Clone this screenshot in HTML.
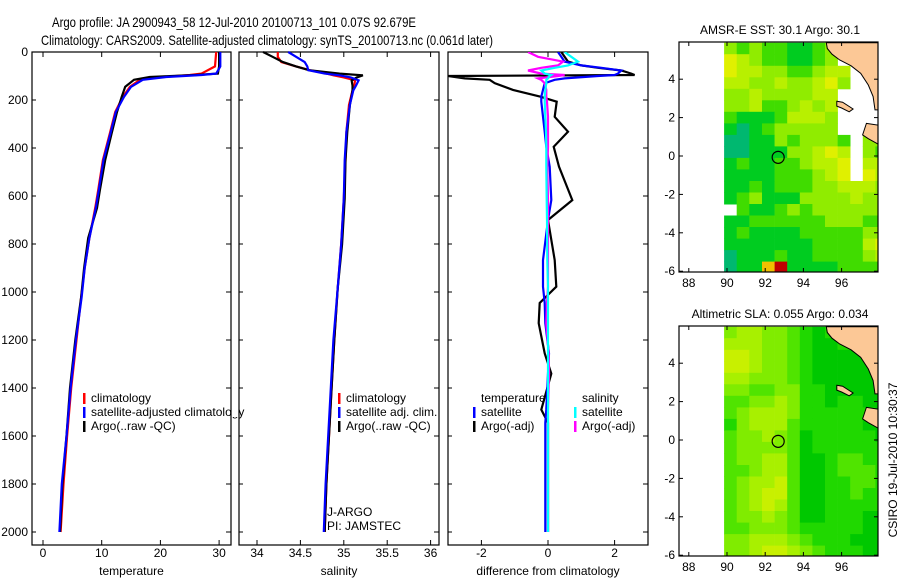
<!DOCTYPE html>
<html><head><meta charset="utf-8"><style>
body{margin:0;background:#fff}
svg{display:block;font-family:"Liberation Sans",sans-serif}
text{fill:#000}
</style></head><body>
<svg id="c" width="900" height="580" xmlns="http://www.w3.org/2000/svg">
<text x="52" y="27" font-size="14" textLength="364" lengthAdjust="spacingAndGlyphs">Argo profile: JA 2900943_58 12-Jul-2010 20100713_101 0.07S 92.679E</text>
<text x="41" y="45" font-size="14" textLength="452" lengthAdjust="spacingAndGlyphs">Climatology: CARS2009. Satellite-adjusted climatology: synTS_20100713.nc (0.061d later)</text>
<g id="g"></g>
</svg>
<script>
// ---------- data ----------
const tDepth   = [0,60,90,96,104,116,145,187,250,338,450,575,650,775,900,1020,1200,1400,1600,1800,2000];
const tArgo    = [30.0,30.0,29.8,26,18.2,15.5,14.0,13.4,12.6,11.7,10.6,9.7,9.2,7.7,7.0,6.5,5.5,4.6,4.0,3.3,2.9];
const tClim    = [29.5,29.3,27,25,20.5,16.5,14.8,13.6,12.3,11.4,10.2,9.4,8.9,7.9,7.1,6.5,5.7,4.8,4.1,3.5,3.0];
const tSat     = [30.2,30.2,29.5,27,21.0,17.0,15.0,13.8,12.4,11.5,10.3,9.5,9.0,7.9,7.1,6.6,5.6,4.7,4.0,3.2,2.8];
const sDepth   = [0,20,42,60,76,90,97,106,118,140,160,220,333,450,611,800,985,1200,1400,1600,1800,2000];
const sArgo    = [34.07,34.18,34.30,34.45,34.60,34.95,35.22,35.15,35.09,35.10,35.10,35.07,35.04,35.02,35.01,34.98,34.93,34.89,34.86,34.83,34.80,34.78];
const sClim    = [34.24,34.24,34.28,34.45,34.61,34.80,34.88,35.00,35.13,35.12,35.10,35.06,35.03,35.02,35.00,34.97,34.93,34.89,34.86,34.83,34.80,34.78];
const sSat     = [34.36,34.45,34.55,34.58,34.59,34.78,34.95,35.08,35.17,35.14,35.11,35.07,35.03,35.01,35.00,34.97,34.93,34.88,34.85,34.82,34.79,34.77];
const dDepth   = [0,20,40,56,66,77,90,96,100,110,116,130,158,186,207,270,332,395,478,617,700,867,978,1046,1130,1256,1340,1490,1545,1700,2000];
const dTArgo   = [0.4,0.5,0.6,1.0,1.5,2.2,2.5,2.6,-3.0,-2.5,-1.75,-1.6,-1.05,-0.24,0.26,0.2,0.6,0.17,0.33,0.73,0.0,0.2,0.25,-0.25,-0.28,-0.1,0.1,-0.2,0.0,0.0,0.0];
const dTSat    = [0.3,0.4,0.5,1.0,1.6,2.2,2.1,2.0,1.5,0.5,0.2,-0.1,-0.15,-0.2,-0.2,-0.15,-0.1,-0.05,0.05,0.1,0.0,-0.15,-0.15,-0.1,-0.08,0.03,0.0,-0.05,-0.08,-0.08,-0.08];
const dSArgo   = [-0.6,-0.3,0.45,0.3,-0.2,-0.6,-0.2,0.5,0.3,-0.3,-0.2,-0.1,-0.05,-0.05,-0.03,0.0,0.0,0.0,-0.02,0.0,0.0,0.0,0.0,-0.03,-0.05,0.02,0.03,0.0,0.0,0.0,0.0];
const dSSat    = [0.5,0.7,0.9,0.6,0.2,-0.2,-0.1,0.1,0.05,0.0,-0.05,-0.05,-0.08,-0.1,-0.1,-0.08,-0.06,-0.05,-0.05,-0.04,-0.03,-0.02,0.0,0.0,0.0,0.0,0.0,0.0,0.0,0.0,0.0];
const depthTicks = [0,200,400,600,800,1000,1200,1400,1600,1800,2000];
const tTicks = [0,10,20,30];
const sTicks = [34,34.5,35,35.5,36];
const dTicks = [-2,0,2];
const lonTicks = [88,90,92,94,96];
const latTicks = [4,2,0,-2,-4,-6];
const sstGrid = ["434332234xxxx","654332234xxxx","6554433455xxx","5544544564xxx","445444455xxxx","445334545xxxx","322235554xxxx","212344444xxxx","1122434443x44","1122244565x43","2322334556x55","2222333456x65","2232333445554","2342224444544","x322343444444","2233333344433","2322223333344","2222222333356","1222322333345","1227922223333"];
const slaGrid = ["4554432122333","5554432112223","6654432111122","6654432111111","5544432111111","4433442211111","3344542212211","3455542222221","2455532222211","3445431222221","3444431222222","3445531123322","3345531123332","3455631122332","3456631122322","3456531122222","3445431122211","3344432222211","4455543222111","4456654322211"];
const argoLon = 92.679, argoLat = -0.07;

// ---------- helpers ----------
const NS="http://www.w3.org/2000/svg", G=document.getElementById('g');
function el(t,a,p){const e=document.createElementNS(NS,t);for(const k in a)e.setAttribute(k,a[k]);(p||G).appendChild(e);return e;}
function txt(x,y,s,fs,anchor,p){const e=el('text',{x:x,y:y,'font-size':fs||12,'text-anchor':anchor||'start'},p);e.textContent=s;return e;}
const yD = d => 52 + d*0.24;
const PB = 545;

function panel(name,x0,x1,xs,ticks,fmt,label,series){
  const g=el('g',{});
  
  
  const r=el('rect',{x:x0,y:52,width:x1-x0,height:PB-52,fill:'none',stroke:'#000','stroke-width':1.2},g);
  
  
  ticks.forEach(v=>{const x=xs(v);
    el('line',{x1:x,x2:x,y1:52,y2:57,stroke:'#000'},g);
    el('line',{x1:x,x2:x,y1:PB,y2:PB-5,stroke:'#000'},g);
    const t=txt(x,557,fmt(v),12,'middle',g);
    
    
  });
  depthTicks.forEach(d=>{el('line',{x1:x1,x2:x1-5,y1:yD(d),y2:yD(d),stroke:'#000'},g);
    el('line',{x1:x0,x2:x0+4,y1:yD(d),y2:yD(d),stroke:'#000'},g);});
  const l=txt((x0+x1)/2,575,label,12,'middle',g);
  
  
  series.forEach(s=>{
    const pts=s.v.map((v,i)=>xs(v).toFixed(1)+','+yD(s.d[i]).toFixed(1)).join(' ');
    const pl=el('polyline',{points:pts,fill:'none',stroke:s.c,'stroke-width':s.w||2.2},g);
    
    
  });
  return g;
}
const cp=el('clipPath',{id:'cp3'});el('rect',{x:448,y:52,width:200,height:PB-52},cp);

const xT=v=>43+v*5.87, xS=v=>257+(v-34)*86.8, xDf=v=>548+v*33.3;
panel('temperature-panel',32,231,xT,tTicks,v=>String(v),'temperature',[
  {v:tClim,d:tDepth,c:'#f00',n:'temp-climatology-line'},
  {v:tArgo,d:tDepth,c:'#000',n:'temp-argo-line'},
  {v:tSat,d:tDepth,c:'#00f',n:'temp-satellite-line'}]);
panel('salinity-panel',239,439,xS,sTicks,v=>String(v),'salinity',[
  {v:sClim,d:sDepth,c:'#f00',n:'sal-climatology-line'},
  {v:sArgo,d:sDepth,c:'#000',n:'sal-argo-line'},
  {v:sSat,d:sDepth,c:'#00f',n:'sal-satellite-line'}]);
const p3=panel('difference-panel',448,648,xDf,dTicks,v=>String(v),'difference from climatology',[
  {v:dTArgo,d:dDepth,c:'#000',n:'temp-argo-diff-line'},
  {v:dTSat,d:dDepth,c:'#00f',n:'temp-satellite-diff-line'},
  {v:dSArgo,d:dDepth,c:'#f0f',n:'sal-argo-diff-line'},
  {v:dSSat,d:dDepth,c:'#0ff',n:'sal-satellite-diff-line'}]);
p3.querySelectorAll('polyline').forEach(p=>p.setAttribute('clip-path','url(#cp3)'));

depthTicks.forEach(d=>{const t=txt(28,yD(d)+4,String(d),12,'end');
  
  });

function legend(name,x,y,items){
  const g=el('g',{});
  
  
  items.forEach((it,i)=>{const yy=y+i*14;
    if(it.c) el('rect',{x:x,y:yy-9,width:2.5,height:11,fill:it.c},g);
    const t=txt(x+8,yy,it.t,12,'start',g);
    
    });
}
legend('temperature-legend',83,402,[{c:'#f00',t:'climatology'},{c:'#00f',t:'satellite-adjusted climatology'},{c:'#000',t:'Argo(..raw -QC)'}]);
legend('salinity-legend',338,402,[{c:'#f00',t:'climatology'},{c:'#00f',t:'satellite adj. clim.'},{c:'#000',t:'Argo(..raw -QC)'}]);
legend('diff-temp-legend',473,402,[{c:null,t:'temperature'},{c:'#00f',t:'satellite'},{c:'#000',t:'Argo(-adj)'}]);
legend('diff-sal-legend',574,402,[{c:null,t:'salinity'},{c:'#0ff',t:'satellite'},{c:'#f0f',t:'Argo(-adj)'}]);
el('rect',{x:232,y:405,width:6,height:12,fill:'#fff'});
const ja=txt(327,516,'J-ARGO',12);
const pi=txt(327,530,'PI: JAMSTEC',12);

// ---------- maps ----------
const sstCol={'1':'#00b870','2':'#00cc20','3':'#40dc00','4':'#90ec00','5':'#b8f000','6':'#e0f000','7':'#f0c000','8':'#f06000','9':'#c00000'};
const slaCol={'1':'#00c800','2':'#20d800','3':'#50e400','4':'#80ec00','5':'#a8f000','6':'#c8f000'};
const land=[[95.2,5.9],[95.25,5.6],[95.5,5.3],[95.9,5.0],[96.5,4.7],[97.0,4.3],[97.4,3.7],[97.65,3.1],[97.75,2.4],[98.2,2.4],[98.2,5.9]];
const isl1=[[95.75,2.85],[96.05,2.8],[96.6,2.45],[96.4,2.3],[96.0,2.5],[95.75,2.6]];
const isl2=[[97.3,1.7],[97.95,1.6],[97.95,0.6],[97.4,0.9],[97.1,1.1]];
function map(name,top,title,grid,cols){
  const lonX=l=>727+(l-90)*19.1, latY=a=>top+114+(0-a)*19.2;
  const g=el('g',{});
  
  
  const x0=679,x1=878,y0=top,y1=top+230;
  const cid='cl'+top;const cpp=el('clipPath',{id:cid},g);el('rect',{x:x0,y:y0,width:x1-x0,height:y1-y0},cpp);
  const cells=el('g',{'clip-path':'url(#'+cid+')'},g);
  grid.forEach((row,r)=>{[...row].forEach((ch,c)=>{
    if(!cols[ch])return;
    const la=5.9-r*0.6, lo=89.85+c*0.66;
    const cell=el('rect',{x:lonX(lo).toFixed(1),y:latY(la).toFixed(1),width:12.9,height:12,fill:cols[ch]},cells);
    
    
  });});
  [land,isl1,isl2].forEach((poly,i)=>{
    const p=el('polygon',{points:poly.map(q=>lonX(q[0]).toFixed(1)+','+latY(q[1]).toFixed(1)).join(' '),fill:'#fcc896',stroke:'#000','stroke-width':1},cells);
    
    
  });
  const circ=el('circle',{cx:lonX(argoLon),cy:latY(argoLat),r:6,fill:'none',stroke:'#000','stroke-width':1.2},g);
  
  
  el('rect',{x:x0,y:y0,width:x1-x0,height:y1-y0,fill:'none',stroke:'#000','stroke-width':1.2},g);
  lonTicks.forEach(l=>{const x=lonX(l);el('line',{x1:x,x2:x,y1:y0,y2:y0+4,stroke:'#000'},g);el('line',{x1:x,x2:x,y1:y1,y2:y1-4,stroke:'#000'},g);
    const t=txt(x,y1+15,String(l),12,'middle',g);});
  latTicks.forEach(a=>{const y=latY(a);el('line',{x1:x1,x2:x1-4,y1:y,y2:y,stroke:'#000'},g);el('line',{x1:x0,x2:x0+4,y1:y,y2:y,stroke:'#000'},g);
    const t=txt(x0-4,y+4,String(a),12,'end',g);});
  const tt=txt(780,top-8,title,12,'middle',g);
}
map('sst-map',42,'AMSR-E SST: 30.1  Argo: 30.1',sstGrid,sstCol);
map('sla-map',326,'Altimetric SLA: 0.055  Argo: 0.034',slaGrid,slaCol);
const cs=el('text',{x:0,y:0,'font-size':12,'text-anchor':'middle',transform:'translate(897,460) rotate(-90)'});
cs.textContent='CSIRO 19-Jul-2010 10:30:37';


</script>
</body></html>
